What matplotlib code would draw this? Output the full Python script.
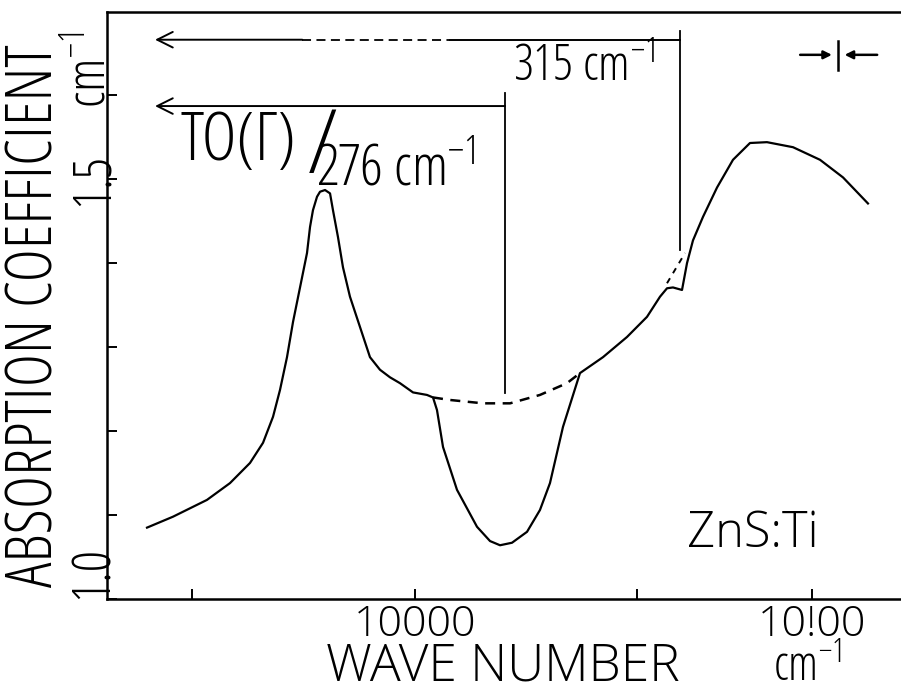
import matplotlib
matplotlib.use('Agg')
import matplotlib.pyplot as plt

plt.rcParams['font.family'] = ['Open Sans', 'DejaVu Sans']
plt.rcParams['font.stretch'] = 'condensed'
plt.rcParams['font.weight'] = 'light'
plt.rcParams['mathtext.fontset'] = 'custom'
plt.rcParams['mathtext.rm'] = 'Open Sans:weight=light:stretch=condensed'
plt.rcParams['mathtext.default'] = 'regular'

# measured spectrum (x in arbitrary wave-number units, 0..100 across the frame)
wn = [5.04, 8.31, 12.59, 15.49, 18.01, 19.65, 20.91, 21.79, 22.67, 23.43,
      24.31, 25.19, 25.57, 25.94, 26.45, 26.83, 27.46, 28.09, 28.46, 29.09,
      29.72, 30.60, 31.86, 33.12, 34.38, 35.64, 36.90, 38.54, 40.30, 41.06,
      41.56, 42.32, 44.08, 46.60, 48.24, 49.50, 51.01, 52.90, 54.53, 55.79,
      57.43, 59.57, 62.47, 65.49, 68.01, 69.65, 70.53, 71.28, 72.42, 73.05,
      73.80, 75.06, 76.83, 78.84, 80.98, 83.12, 86.40, 89.80, 92.70, 95.84]
alpha = [1.085, 1.098, 1.118, 1.138, 1.162, 1.186, 1.217, 1.249, 1.288, 1.330,
         1.371, 1.412, 1.443, 1.463, 1.479, 1.485, 1.487, 1.483, 1.463, 1.431,
         1.395, 1.360, 1.324, 1.288, 1.273, 1.264, 1.257, 1.246, 1.243, 1.240,
         1.225, 1.181, 1.130, 1.086, 1.069, 1.064, 1.067, 1.080, 1.106, 1.138,
         1.205, 1.269, 1.288, 1.312, 1.336, 1.360, 1.370, 1.371, 1.368, 1.400,
         1.427, 1.455, 1.490, 1.523, 1.543, 1.544, 1.538, 1.523, 1.502, 1.471]

# dashed background under the dip and across the small notch
base_wn = [41.06, 43.20, 47.36, 50.76, 54.53, 57.93, 59.57]
base_alpha = [1.240, 1.237, 1.233, 1.233, 1.243, 1.257, 1.269]
notch_wn = [70.53, 72.80]
notch_alpha = [1.376, 1.412]

# phonon markers: position, bottom of vertical line, arrow height
to_pos, to_bottom, to_arrow = 50.13, 1.245, 1.587
m315_pos, m315_bottom, m315_arrow = 72.17, 1.415, 1.666
arrow_end = 6.05

xticks = [10.7, 38.8, 66.8, 88.8]
xticklabels = ['', '10000', '', '10!00']
yticks = [1.0, 1.1, 1.2, 1.3, 1.4, 1.5, 1.6]
yticklabels = ['1.0', '', '', '', '', '1.5', '']

fig = plt.figure(figsize=(9.01, 6.93), dpi=100)
ax = fig.add_axes([107/901, 94/693, 794/901, 587/693])
ax.set_xlim(0, 100)
ax.set_ylim(1.0, 1.699)

ax.plot(wn, alpha, color='black', lw=1.6)
ax.plot(base_wn, base_alpha, color='black', lw=1.8, ls=(0, (4, 3)))
ax.plot(notch_wn, notch_alpha, color='black', lw=1.4, ls=(0, (3, 3)))

# TO(Gamma) marker
ax.plot([to_pos, to_pos], [to_bottom, to_arrow + 0.015], color='black', lw=1.3)
ax.annotate('', xy=(arrow_end, to_arrow), xytext=(to_pos, to_arrow),
            arrowprops=dict(arrowstyle='->', lw=1.4, mutation_scale=28, color='black',
                            shrinkA=0, shrinkB=0))
# 315 marker
ax.plot([m315_pos, m315_pos], [m315_bottom, m315_arrow + 0.01], color='black', lw=1.3)
ax.annotate('', xy=(arrow_end, m315_arrow), xytext=(24.6, m315_arrow),
            arrowprops=dict(arrowstyle='->', lw=1.4, mutation_scale=28, color='black',
                            shrinkA=0, shrinkB=0))
ax.plot([24.6, 43.2], [m315_arrow, m315_arrow], color='black', lw=1.3, ls=(0, (5, 3)))
ax.plot([43.2, m315_pos], [m315_arrow, m315_arrow], color='black', lw=1.4)

# resolution marker
ax.annotate('', xy=(91.3, 1.648), xytext=(87.3, 1.648),
            arrowprops=dict(arrowstyle='-|>', lw=1.8, mutation_scale=12, color='black',
                            shrinkA=0, shrinkB=0))
ax.annotate('', xy=(92.9, 1.648), xytext=(97.0, 1.648),
            arrowprops=dict(arrowstyle='-|>', lw=1.8, mutation_scale=12, color='black',
                            shrinkA=0, shrinkB=0))
ax.plot([92.1, 92.1], [1.630, 1.664], color='black', lw=1.8)

# labels inside the frame
ax.text(51.1, 1.617, '315 cm$^{-1}$', fontsize=36, va='baseline', ha='left')
ax.text(9.2, 1.523, 'TO(Γ)', fontsize=48, va='baseline', ha='left')
ax.text(27.1, 1.535, '/', fontsize=64, va='center', ha='center')
ax.text(26.3, 1.493, '276 cm$^{-1}$', fontsize=41, va='baseline', ha='left')
ax.text(73.0, 1.062, 'ZnS:Ti', fontsize=35, fontstretch='normal', va='baseline', ha='left')

for s in ['left', 'bottom', 'top']:
    ax.spines[s].set_linewidth(1.8)
ax.spines['right'].set_visible(False)

ax.set_xticks(xticks)
ax.set_xticklabels(xticklabels, fontsize=31, fontstretch='normal')
ax.set_yticks(yticks)
ax.set_yticklabels(yticklabels, fontsize=38, rotation=90, va='center')
ax.yaxis.get_ticklabels()[0].set_va('bottom')
ax.tick_params(axis='both', direction='in', length=7, width=1.4)
ax.tick_params(axis='x', pad=3)
ax.tick_params(axis='y', pad=-10)

fig.text(36/901, 1 - 316/693, 'ABSORPTION COEFFICIENT', rotation=90,
         fontsize=46, ha='center', va='center')
fig.text(92/901, 1 - 70/693, 'cm$^{-1}$', rotation=90, fontsize=38, ha='center', va='center')
fig.text(503/901, 0.001, 'WAVE NUMBER', fontsize=37, fontstretch='normal',
         ha='center', va='bottom')
fig.text(773/901, 0.001, 'cm$^{-1}$', fontsize=34, ha='left', va='bottom')

fig.savefig('out.png', dpi=100)
